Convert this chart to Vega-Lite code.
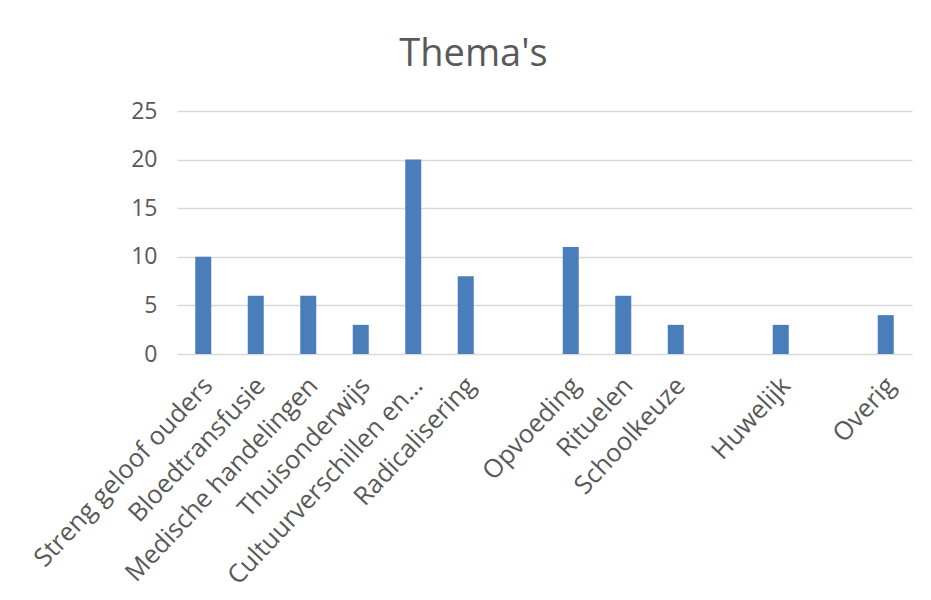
{
  "$schema": "https://vega.github.io/schema/vega-lite/v6.json",
  "autosize": "none",
  "width": 735,
  "height": 243,
  "padding": {"left": 177, "top": 111, "right": 19, "bottom": 246},
  "background": "white",
  "title": {
    "text": "Thema's",
    "font": "Open Sans",
    "fontSize": 38,
    "fontWeight": "normal",
    "color": "#595959",
    "anchor": "middle",
    "dx": -71,
    "offset": 26
  },
  "data": {
    "values": [
      {"thema": "Streng geloof ouders", "aantal": 10},
      {"thema": "Bloedtransfusie", "aantal": 6},
      {"thema": "Medische handelingen", "aantal": 6},
      {"thema": "Thuisonderwijs", "aantal": 3},
      {"thema": "Cultuurverschillen en…", "aantal": 20},
      {"thema": "Radicalisering", "aantal": 8},
      {"thema": " ", "aantal": 0},
      {"thema": "Opvoeding", "aantal": 11},
      {"thema": "Rituelen", "aantal": 6},
      {"thema": "Schoolkeuze", "aantal": 3},
      {"thema": "  ", "aantal": 0},
      {"thema": "Huwelijk", "aantal": 3},
      {"thema": "   ", "aantal": 0},
      {"thema": "Overig", "aantal": 4}
    ]
  },
  "mark": {"type": "bar", "color": "#4a7ebb"},
  "encoding": {
    "x": {
      "field": "thema",
      "type": "nominal",
      "sort": null,
      "scale": {"paddingInner": 0.695, "paddingOuter": 0.3475},
      "axis": {
        "title": null,
        "labelAngle": -47,
        "labelAlign": "right",
        "labelBaseline": "middle",
        "labelFont": "Open Sans",
        "labelFontSize": 25.5,
        "labelColor": "#595959",
        "labelPadding": 27,
        "labelOffset": 5,
        "ticks": false,
        "domain": false,
        "labelOverlap": false,
        "labelLimit": 400
      }
    },
    "y": {
      "field": "aantal",
      "type": "quantitative",
      "scale": {"domain": [0, 25]},
      "axis": {
        "title": null,
        "values": [0, 5, 10, 15, 20, 25],
        "labelFont": "Open Sans",
        "labelFontSize": 23,
        "labelColor": "#595959",
        "labelPadding": 20,
        "ticks": false,
        "domain": false,
        "gridColor": "#d9d9d9",
        "gridWidth": 1.5
      }
    }
  },
  "config": {
    "view": {"stroke": null}
  }
}
